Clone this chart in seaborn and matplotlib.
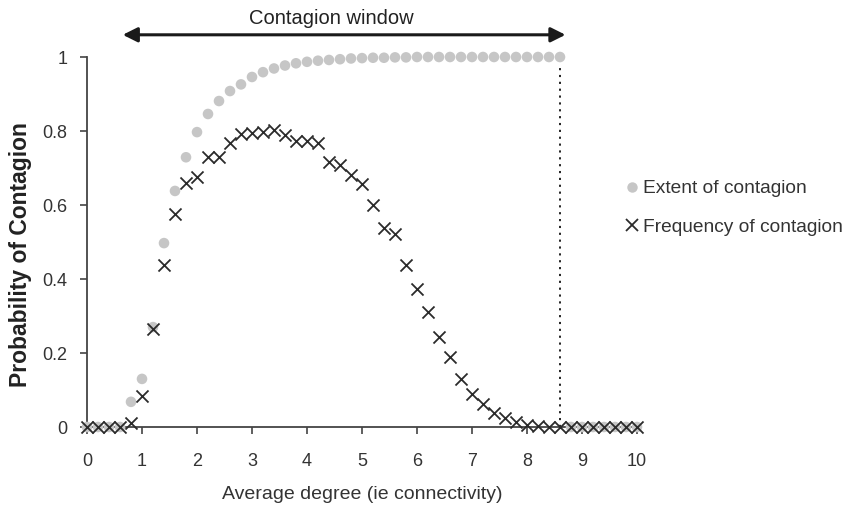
import matplotlib
matplotlib.use("Agg")
import matplotlib.pyplot as plt
from matplotlib.lines import Line2D
import seaborn as sns
import pandas as pd

# ---- data ----
degree = [0.0, 0.2, 0.4, 0.6, 0.8, 1.0, 1.2, 1.4, 1.6, 1.8,
          2.0, 2.2, 2.4, 2.6, 2.8, 3.0, 3.2, 3.4, 3.6, 3.8,
          4.0, 4.2, 4.4, 4.6, 4.8, 5.0, 5.2, 5.4, 5.6, 5.8,
          6.0, 6.2, 6.4, 6.6, 6.8, 7.0, 7.2, 7.4, 7.6, 7.8,
          8.0, 8.2, 8.4, 8.6, 8.8, 9.0, 9.2, 9.4, 9.6, 9.8, 10.0]

extent = [0.0, 0.0, 0.0, 0.0, 0.068, 0.13, 0.27, 0.497, 0.638, 0.729,
          0.797, 0.846, 0.881, 0.908, 0.926, 0.946, 0.959, 0.969, 0.977, 0.983,
          0.987, 0.990, 0.992, 0.994, 0.996, 0.997, 0.998, 0.998, 0.999, 0.999,
          1.0, 1.0, 1.0, 1.0, 1.0, 1.0, 1.0, 1.0, 1.0, 1.0,
          1.0, 1.0, 1.0, 1.0, 0.0, 0.0, 0.0, 0.0, 0.0, 0.0, 0.0]

frequency = [0.0, 0.0, 0.0, 0.0, 0.01, 0.083, 0.266, 0.437, 0.575, 0.66,
             0.676, 0.73, 0.731, 0.768, 0.793, 0.795, 0.797, 0.803, 0.789, 0.774,
             0.773, 0.767, 0.717, 0.709, 0.681, 0.656, 0.601, 0.537, 0.521, 0.438,
             0.372, 0.31, 0.244, 0.19, 0.129, 0.088, 0.061, 0.039, 0.023, 0.014,
             0.005, 0.002, 0.0, 0.0, 0.0, 0.0, 0.0, 0.0, 0.0, 0.0, 0.0]

x_ticks = [0, 1, 2, 3, 4, 5, 6, 7, 8, 9, 10]
y_ticks = [0, 0.2, 0.4, 0.6, 0.8, 1.0]
y_tick_labels = ["0", "0.2", "0.4", "0.6", "0.8", "1"]

window_start, window_end = 0.65, 8.7
window_cutoff = 8.6

series_names = ["Extent of contagion", "Frequency of contagion"]

df = pd.DataFrame({"degree": degree, "extent": extent, "frequency": frequency})

# ---- style ----
sns.set_theme(style="white")
plt.rcParams["font.family"] = ["Liberation Sans", "DejaVu Sans"]

fig = plt.figure(figsize=(8.47, 5.09), dpi=100)
ax = fig.add_axes([87 / 847, 1 - 427 / 509, 550 / 847, 370 / 509])

grey = "#c6c6c6"
dark = "#2b2b2b"

sns.scatterplot(data=df, x="degree", y="extent", ax=ax, marker="o", s=58,
                color=grey, edgecolor="none", linewidth=0, clip_on=False, zorder=3)
sns.scatterplot(data=df, x="degree", y="frequency", ax=ax, marker="x", s=75,
                color=dark, linewidth=1.3, clip_on=False, zorder=4)

ax.set_xlim(0, 10)
ax.set_ylim(0, 1)
ax.set_xticks(x_ticks)
ax.set_yticks(y_ticks)
ax.set_yticklabels(y_tick_labels)

for side in ["top", "right"]:
    ax.spines[side].set_visible(False)
for side in ["left", "bottom"]:
    ax.spines[side].set_color("#444444")
    ax.spines[side].set_linewidth(1.3)

ax.tick_params(axis="x", direction="out", length=5, width=1.2, color="#444444",
               labelsize=13, pad=14, labelcolor="#333333", bottom=True)
ax.tick_params(axis="y", direction="out", length=5, width=1.2, color="#444444",
               labelsize=13, pad=9, labelcolor="#333333", left=True)

ax.set_xlabel("Average degree (ie connectivity)", fontsize=14, color="#333333",
              labelpad=11)
ax.set_ylabel("Probability of Contagion", fontsize=16.5, fontweight="bold",
              color="#222222")
ax.yaxis.set_label_coords(-0.1, 0.465)

# cutoff dotted line
ax.plot([window_cutoff, window_cutoff], [0, 0.978], color="#111111", lw=1.3,
        linestyle=(0, (1.2, 2.6)), zorder=2)

# contagion window arrow
ax.annotate("", xy=(window_end, 1.06), xytext=(window_start, 1.06),
            xycoords="data", annotation_clip=False,
            arrowprops=dict(arrowstyle="<|-|>", lw=2.2, color="#1a1a1a",
                            mutation_scale=22, shrinkA=0, shrinkB=0))
ax.text(4.45, 1.105, "Contagion window", ha="center", va="center",
        fontsize=14.5, color="#222222", clip_on=False)

handles = [Line2D([], [], marker="o", linestyle="none", markersize=7.5,
                  markerfacecolor=grey, markeredgecolor="none"),
           Line2D([], [], marker="x", linestyle="none", markersize=8,
                  markeredgecolor=dark, markeredgewidth=1.3)]
fig.legend(handles, series_names, loc="center left",
           bbox_to_anchor=(611 / 847, 1 - 208 / 509), frameon=False,
           fontsize=13.8, handlelength=0.8, handletextpad=0.15,
           labelspacing=1.1, labelcolor="#333333", borderpad=0.2)

fig.savefig("out.png", dpi=100)
